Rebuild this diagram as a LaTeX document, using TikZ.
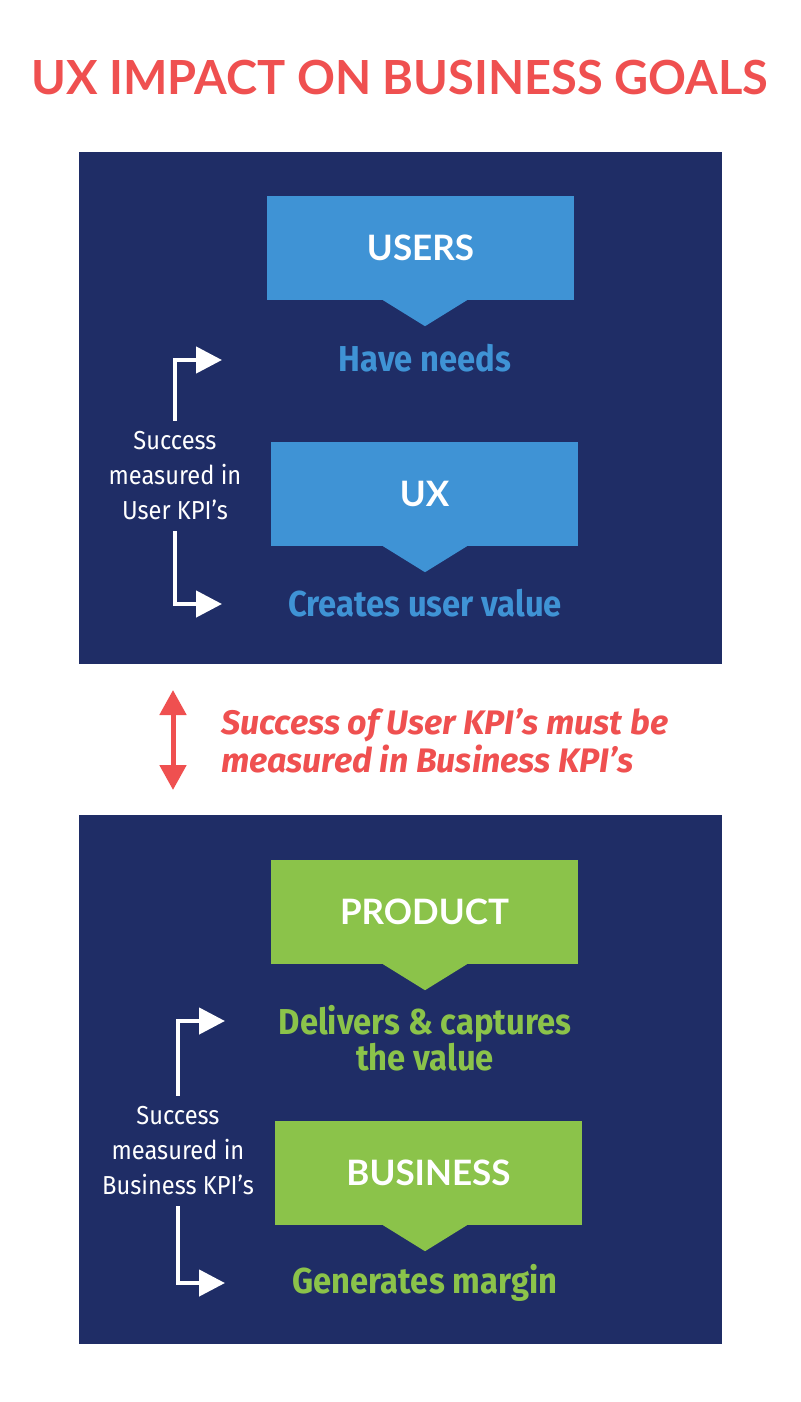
\documentclass[tikz,border=0pt]{standalone}
\usepackage{fontspec}
\usepackage{tikz}
\usetikzlibrary{arrows.meta,positioning,calc}
\usepackage{xcolor}
\newfontfamily\geofont{Lato}
\newfontfamily\condfont[FakeStretch=0.91]{Fira Sans}
\newfontfamily\plainfont{Fira Sans}
\definecolor{navy}{HTML}{1F2D66}
\definecolor{skyblue}{HTML}{3F93D5}
\definecolor{leafgreen}{HTML}{8BC34A}
\definecolor{coral}{HTML}{EF5050}

\begin{document}
\begin{tikzpicture}[x=1pt,y=-1pt,
  panel/.style={fill=navy,minimum width=643pt,inner sep=0pt},
  tagbox/.style={minimum width=307pt,minimum height=104pt,inner sep=0pt,text=white,font=\geofont\bfseries\fontsize{35}{40}\selectfont},
  gain/.style={align=center,inner sep=0pt,font=\condfont\bfseries\fontsize{36}{36}\selectfont},
  side/.style={align=center,inner sep=11pt,text=white,font=\condfont\fontsize{26}{35}\selectfont},
  larr/.style={-{Triangle[length=26pt,width=26pt]},line width=4.5pt,draw=white},
  darr/.style={{Triangle[length=25pt,width=26pt]}-{Triangle[length=25pt,width=26pt]},line width=5pt,draw=coral}]
\useasboundingbox (0,0) rectangle (800,1402);
\node[text=coral,font=\geofont\bfseries\fontsize{47}{50}\selectfont] (title) at (400,78) {UX IMPACT ON BUSINESS GOALS};
% panels
\node[panel,minimum height=512pt] (userpanel) at (400.5,408) {};
\node[panel,minimum height=529pt] (bizpanel) at (400.5,1079.5) {};
% boxes and what they give
\node[tagbox,fill=skyblue] (users) at (420.5,248) {USERS};
\node[tagbox,fill=skyblue] (ux) at (424.5,494) {UX};
\node[tagbox,fill=leafgreen] (product) at (424.5,912) {PRODUCT};
\node[tagbox,fill=leafgreen] (business) at (428.5,1173) {BUSINESS};
\foreach \b/\c in {users/skyblue,ux/skyblue,product/leafgreen,business/leafgreen}
  \fill[\c] ([xshift=-42pt]425,0 |- \b.south) -- ([yshift=-26pt]425,0 |- \b.south) -- ([xshift=42pt]425,0 |- \b.south) -- cycle;
\node[gain,text=skyblue] (needs) at (425,358) {Have needs};
\node[gain,text=skyblue] (value) at (425,603) {Creates user value};
\node[gain,text=leafgreen] (delivers) at (425,1038) {Delivers \& captures\\the value};
\node[gain,text=leafgreen] (margin) at (425,1283) {Generates margin};
% KPI side notes
\node[side] (userkpi) at (175,476) {Success\\measured in\\User KPI’s};
\node[side] (bizkpi) at (178,1151) {Success\\measured in\\Business KPI’s};
\coordinate (needsin) at (222,360);
\coordinate (valuein) at (222,604);
\coordinate (deliversin) at (225,1021);
\coordinate (marginin) at (225,1283);
\draw[larr] (userkpi.north) |- (needsin);
\draw[larr] (userkpi.south) |- (valuein);
\draw[larr] (bizkpi.north) |- (deliversin);
\draw[larr] (bizkpi.south) |- (marginin);
% link between the panels
\coordinate (linktop) at (173,690);
\coordinate (linkbot) at (173,790);
\draw[darr] (linktop) -- (linkbot);
\node[anchor=west,align=left,inner sep=0pt,text=coral,font=\plainfont\bfseries\itshape\fontsize{34}{38}\selectfont] (must) at (221,741) {Success of User KPI’s must be\\measured in Business KPI’s};
\end{tikzpicture}
\end{document}
